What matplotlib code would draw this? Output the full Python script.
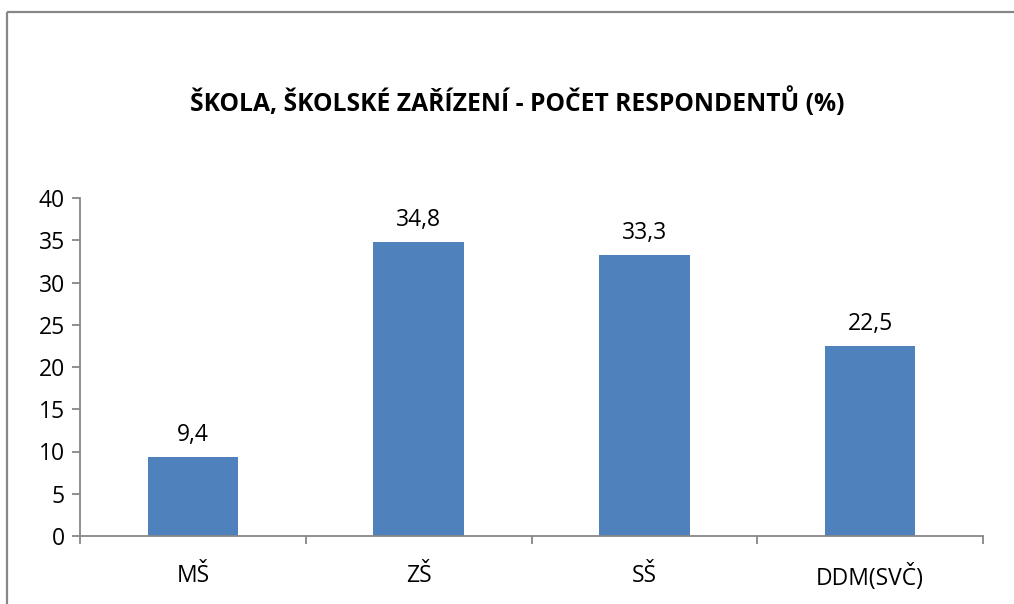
import matplotlib
matplotlib.use("Agg")
import matplotlib.pyplot as plt
from matplotlib.patches import Rectangle

categories = ["MŠ", "ZŠ", "SŠ", "DDM(SVČ)"]
values = [9.4, 34.8, 33.3, 22.5]
value_labels = ["9,4", "34,8", "33,3", "22,5"]
yticks = [0, 5, 10, 15, 20, 25, 30, 35, 40]
title = "ŠKOLA, ŠKOLSKÉ ZAŘÍZENÍ - POČET RESPONDENTŮ (%)"

plt.rcParams['font.family'] = ['Open Sans', 'DejaVu Sans']

W, H = 1014, 604
fig = plt.figure(figsize=(W / 100, H / 100), dpi=100)

# outer chart border
fig.patches.append(Rectangle((7 / W, 1 - 12 / H), 1.2, -1.2, transform=fig.transFigure,
                             fill=False, edgecolor='#878787', linewidth=1.6, zorder=0))

ax = fig.add_axes([80 / W, (H - 536) / H, (983 - 80) / W, (536 - 198) / H])
x = list(range(len(categories)))
bars = ax.bar(x, values, width=0.4, color='#4F81BD', zorder=2)
ax.set_xlim(-0.5, len(categories) - 0.5)
ax.set_ylim(0, 40)
ax.set_yticks(yticks)
ax.set_yticklabels([str(t) for t in yticks], fontsize=16.5)
ax.set_xticks(x)
ax.set_xticklabels(categories, fontsize=16.5)
ax.tick_params(axis='x', length=0, pad=20)
ax.tick_params(axis='y', length=6, width=1.3, color='#878787', pad=5)

# category boundary ticks
ax.set_xticks([i - 0.5 for i in range(len(categories) + 1)], minor=True)
ax.tick_params(axis='x', which='minor', length=6, width=1.3, color='#878787')

for s in ['top', 'right']:
    ax.spines[s].set_visible(False)
for s in ['left', 'bottom']:
    ax.spines[s].set_color('#878787')
    ax.spines[s].set_linewidth(1.3)

for b, lab in zip(bars, value_labels):
    ax.annotate(lab, (b.get_x() + b.get_width() / 2, b.get_height()),
                xytext=(0, 7), textcoords='offset points', ha='center', va='bottom', fontsize=16.5)

fig.text((190 + 845) / 2 / W, 1 - 102 / H, title, ha='center', va='center',
         fontsize=17.7, fontweight='bold')

fig.savefig("out.png", dpi=100)
